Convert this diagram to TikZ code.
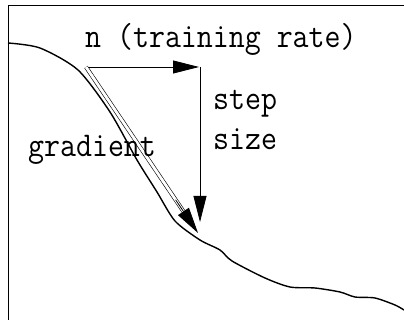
\documentclass[tikz,border=0pt]{standalone}
\usetikzlibrary{arrows.meta,calc}
\begin{document}
\begin{tikzpicture}[x=1pt,y=-1pt,
  lbl/.style={inner sep=0pt,anchor=base west,font=\fontsize{31}{31}\selectfont\ttfamily},
  tip/.style={-{Triangle[length=26pt,width=13pt]}},
  thinln/.style={line width=0.8pt}]
\useasboundingbox (0,0) rectangle (404,320);
% frame
\draw[line width=1pt] (404,6) -- (8,6) -- (8,320);
% curve
\draw[line width=1.4pt,line join=round] plot[smooth,tension=0.45] coordinates {
 (8,43) (40,48) (78,70) (110,112) (137,160) (157,192) (175,221)
 (200,240) (220,250) (232,261) (265,278) (290,287) (315,288) (340,292)
 (355,297) (375,298) (395,305) (404,310)};
% points
\coordinate (o) at (86,67);
\coordinate (h) at (199,67);
\coordinate (c) at (200,67);
\coordinate (v) at (200,222);
\coordinate (g) at (198,233);
% arrows
\draw[thinln,tip] (o) -- (h);
\draw[thinln,tip] (c) -- (v);
\draw[line width=0.6pt,double,double distance=2.8pt] (o) -- ($(o)!0.88!(g)$);
\draw[thinln,tip] ($(o)!0.8!(g)$) -- (g);
% labels
\node[lbl] (t1) at (85,48) {\scalebox{1}[1.12]{n (training rate)}};
\node[lbl] (t2) at (28,157) {\scalebox{1}[1.12]{gradient}};
\node[lbl] (t3) at (213,110) {\scalebox{1}[1.12]{step}};
\node[lbl] (t4) at (213,150) {\scalebox{1}[1.12]{size}};
\end{tikzpicture}
\end{document}
